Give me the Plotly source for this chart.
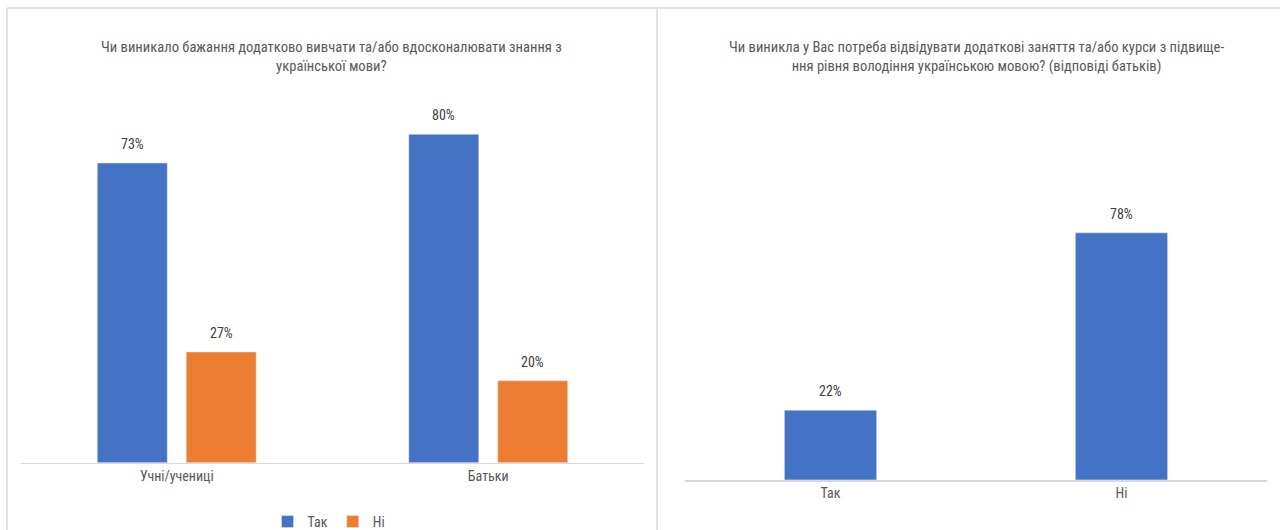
import plotly.graph_objects as go

# ---- data ----
left_categories = ["Учні/учениці", "Батьки"]
left_tak = [73, 80]
left_ni = [27, 20]
left_title = "Чи виникало бажання додатково вивчати та/або вдосконалювати знання з<br>української мови?"

right_categories = ["Так", "Ні"]
right_values = [22, 78]
right_title = "Чи виникла у Вас потреба відвідувати додаткові заняття та/або курси з підвище-<br>ння рівня володіння українською мовою? (відповіді батьків)"

series_names = ["Так", "Ні"]

# ---- style ----
W, H = 1280, 530
FIG_H = 538
FONT = "Liberation Sans Narrow, Roboto Condensed, DejaVu Sans Condensed, sans-serif"
BLUE = "#4472C4"
ORANGE = "#ED7D31"
TXT = "#595959"
LBL = "#404040"
GRID = "#d9d9d9"

def px(x):
    return x / W

def py(y):
    return 1 - y / H

fig = go.Figure()

fig.add_trace(go.Bar(x=left_categories, y=left_tak, name=series_names[0],
                     marker_color=BLUE, xaxis="x", yaxis="y", offsetgroup="a"))
fig.add_trace(go.Bar(x=left_categories, y=left_ni, name=series_names[1],
                     marker_color=ORANGE, xaxis="x", yaxis="y", offsetgroup="b"))
fig.add_trace(go.Bar(x=right_categories, y=right_values, name=series_names[0],
                     marker_color=BLUE, xaxis="x2", yaxis="y2", showlegend=False,
                     width=0.317))

annotations = []
for cat, v in zip(left_categories, left_tak):
    annotations.append(dict(x=cat, y=v, xref="x", yref="y", text=f"{v}%", showarrow=False,
                            yanchor="bottom", yshift=9, xshift=-44.5,
                            font=dict(family=FONT, size=14, color=LBL)))
for cat, v in zip(left_categories, left_ni):
    annotations.append(dict(x=cat, y=v, xref="x", yref="y", text=f"{v}%", showarrow=False,
                            yanchor="bottom", yshift=9, xshift=44.5,
                            font=dict(family=FONT, size=14, color=LBL)))
for cat, v in zip(right_categories, right_values):
    annotations.append(dict(x=cat, y=v, xref="x2", yref="y2", text=f"{v}%", showarrow=False,
                            yanchor="bottom", yshift=9,
                            font=dict(family=FONT, size=14, color=LBL)))

annotations.append(dict(x=px(331), y=py(56), xref="paper", yref="paper", text=left_title,
                        showarrow=False, xanchor="center", yanchor="middle",
                        font=dict(family=FONT, size=14.6, color=TXT)))
annotations.append(dict(x=px(976), y=py(56), xref="paper", yref="paper", text=right_title,
                        showarrow=False, xanchor="center", yanchor="middle",
                        font=dict(family=FONT, size=14.6, color=TXT)))

shapes = [
    dict(type="line", xref="paper", yref="paper", x0=px(7), x1=px(7), y0=py(8), y1=0,
         line=dict(color=GRID, width=1.5)),
    dict(type="line", xref="paper", yref="paper", x0=px(7), x1=1, y0=py(8), y1=py(8),
         line=dict(color=GRID, width=1.5)),
    dict(type="line", xref="paper", yref="paper", x0=px(657), x1=px(657), y0=py(8), y1=0,
         line=dict(color=GRID, width=1.5)),
]

fig.update_layout(
    width=W, height=FIG_H, margin=dict(l=0, r=0, t=0, b=0),
    paper_bgcolor="white", plot_bgcolor="white",
    barmode="group", bargap=0.429, bargroupgap=0.213,
    font=dict(family=FONT, size=14, color=TXT),
    xaxis=dict(domain=[px(21), px(644)], anchor="y", showline=True, linecolor=GRID,
               linewidth=1, showgrid=False, ticks="", tickfont=dict(size=14, color=TXT)),
    yaxis=dict(domain=[py(462), py(100)], anchor="x", range=[0, 88.3], visible=False),
    xaxis2=dict(domain=[px(685), px(1267)], anchor="y2", showline=True, linecolor=GRID,
                linewidth=1.5, showgrid=False, ticks="", tickfont=dict(size=14, color=TXT)),
    yaxis2=dict(domain=[py(479), py(130)], anchor="x2", range=[0, 110.4], visible=False),
    legend=dict(orientation="h", x=px(329), xanchor="center", y=py(521), yanchor="middle",
                font=dict(family=FONT, size=14, color=TXT), itemwidth=30,
                bgcolor="rgba(0,0,0,0)"),
    annotations=annotations, shapes=shapes,
)

fig.write_html("out.html", config={"displayModeBar": False},
               post_script="document.body.style.margin='0';document.body.style.overflow='hidden';")
